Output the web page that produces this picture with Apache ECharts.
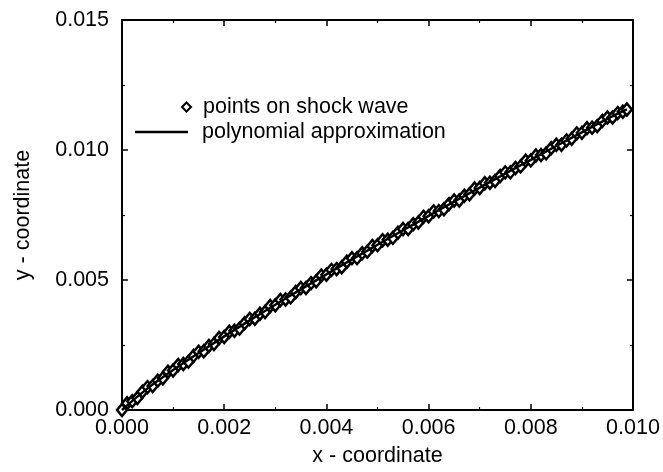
<!DOCTYPE html>
<html>
<head>
<meta charset="utf-8">
<script src="https://cdn.jsdelivr.net/npm/echarts@6/dist/echarts.min.js"></script>
<style>html,body{margin:0;padding:0;background:#fff;}#c{width:663px;height:472px;}</style>
</head>
<body>
<div id="c"></div>
<script>
// Points on shock wave (x, y)
const pointX = [0, 0.0001, 0.0002, 0.0003, 0.0004, 0.0005, 0.0006, 0.0007, 0.0008, 0.0009,
  0.0010, 0.0011, 0.0012, 0.0013, 0.0014, 0.0015, 0.0016, 0.0017, 0.0018, 0.0019,
  0.0020, 0.0021, 0.0022, 0.0023, 0.0024, 0.0025, 0.0026, 0.0027, 0.0028, 0.0029,
  0.0030, 0.0031, 0.0032, 0.0033, 0.0034, 0.0035, 0.0036, 0.0037, 0.0038, 0.0039,
  0.0040, 0.0041, 0.0042, 0.0043, 0.0044, 0.0045, 0.0046, 0.0047, 0.0048, 0.0049,
  0.0050, 0.0051, 0.0052, 0.0053, 0.0054, 0.0055, 0.0056, 0.0057, 0.0058, 0.0059,
  0.0060, 0.0061, 0.0062, 0.0063, 0.0064, 0.0065, 0.0066, 0.0067, 0.0068, 0.0069,
  0.0070, 0.0071, 0.0072, 0.0073, 0.0074, 0.0075, 0.0076, 0.0077, 0.0078, 0.0079,
  0.0080, 0.0081, 0.0082, 0.0083, 0.0084, 0.0085, 0.0086, 0.0087, 0.0088, 0.0089,
  0.0090, 0.0091, 0.0092, 0.0093, 0.0094, 0.0095, 0.0096, 0.0097, 0.0098, 0.00988];
const pointY = [0, 0.00026, 0.00034, 0.00046, 0.00070, 0.00088, 0.00092, 0.00113, 0.00122, 0.00147,
  0.00152, 0.00173, 0.00177, 0.00186, 0.00208, 0.00224, 0.00226, 0.00246, 0.00254, 0.00277,
  0.00281, 0.00301, 0.00305, 0.00313, 0.00334, 0.00350, 0.00351, 0.00370, 0.00377, 0.00400,
  0.00403, 0.00423, 0.00425, 0.00433, 0.00454, 0.00469, 0.00469, 0.00488, 0.00495, 0.00517,
  0.00520, 0.00539, 0.00542, 0.00549, 0.00570, 0.00584, 0.00584, 0.00603, 0.00609, 0.00631,
  0.00634, 0.00653, 0.00655, 0.00662, 0.00682, 0.00696, 0.00696, 0.00715, 0.00721, 0.00743,
  0.00745, 0.00764, 0.00765, 0.00772, 0.00792, 0.00806, 0.00806, 0.00824, 0.00830, 0.00852,
  0.00854, 0.00872, 0.00874, 0.00881, 0.00900, 0.00914, 0.00914, 0.00931, 0.00937, 0.00959,
  0.00960, 0.00979, 0.00981, 0.00987, 0.01007, 0.01020, 0.01020, 0.01037, 0.01043, 0.01064,
  0.01066, 0.01084, 0.01086, 0.01092, 0.01112, 0.01125, 0.01125, 0.01142, 0.01147, 0.01156];
// Polynomial approximation curve
const curveX = [0, 0.0005, 0.0010, 0.0015, 0.0020, 0.0025, 0.0030, 0.0035, 0.0040, 0.0045, 0.0050,
  0.0055, 0.0060, 0.0065, 0.0070, 0.0075, 0.0080, 0.0085, 0.0090, 0.0095, 0.00988];
const curveY = [0, 0.000832, 0.001535, 0.002194, 0.002830, 0.003445, 0.004048, 0.004638, 0.005219, 0.005791, 0.006356,
  0.006914, 0.007466, 0.008012, 0.008555, 0.009091, 0.009624, 0.010154, 0.010679, 0.011201, 0.011560];
const xTicks = [0, 0.002, 0.004, 0.006, 0.008, 0.010];
const yTicks = [0, 0.005, 0.010, 0.015];
const seriesNames = ['points on shock wave', 'polynomial approximation'];

const FONT = '"Liberation Sans", Arial, sans-serif';
const FS = 21.5;
const chart = echarts.init(document.getElementById('c'), null, {renderer: 'canvas'});

function axisBase(extra) {
  return Object.assign({
    type: 'value',
    axisLine: {show: true, onZero: false, lineStyle: {color: '#000', width: 2}},
    axisTick: {show: true, inside: true, length: 6, lineStyle: {color: '#000', width: 1.5}},
    minorTick: {show: true, splitNumber: 2, length: 3, lineStyle: {color: '#000', width: 1.2}},
    splitLine: {show: false},
    minorSplitLine: {show: false}
  }, extra);
}

chart.setOption({
  animation: false,
  backgroundColor: '#fff',
  grid: {left: 122, right: 30, top: 20, bottom: 59},
  legend: [
    {
      data: [{name: seriesNames[0], icon: 'diamond'}],
      left: 181, top: 96, padding: 0, itemWidth: 9, itemHeight: 9,
      selectedMode: false,
      textStyle: {fontFamily: FONT, fontSize: FS, color: '#000', padding: [0, 0, 0, 7]}
    },
    {
      data: [{name: seriesNames[1], icon: 'rect'}],
      left: 135, top: 121, padding: 0, itemWidth: 53, itemHeight: 2.5,
      selectedMode: false,
      textStyle: {fontFamily: FONT, fontSize: FS, color: '#000', padding: [0, 0, 0, 9]}
    }
  ],
  xAxis: [
    axisBase({
      min: xTicks[0], max: xTicks[xTicks.length - 1], interval: 0.002, position: 'bottom',
      name: 'x - coordinate', nameLocation: 'middle', nameGap: 35,
      nameTextStyle: {fontFamily: FONT, fontSize: FS, color: '#000'},
      axisLabel: {fontFamily: FONT, fontSize: FS, color: '#000', margin: 7,
        formatter: v => v.toFixed(3)}
    }),
    axisBase({
      min: xTicks[0], max: xTicks[xTicks.length - 1], interval: 0.002, position: 'top',
      axisLabel: {show: false}
    })
  ],
  yAxis: [
    axisBase({
      min: yTicks[0], max: yTicks[yTicks.length - 1], interval: 0.005, position: 'left',
      name: 'y - coordinate', nameLocation: 'middle', nameGap: 88, nameRotate: 90,
      nameTextStyle: {fontFamily: FONT, fontSize: FS, color: '#000'},
      axisLabel: {fontFamily: FONT, fontSize: FS, color: '#000', margin: 13,
        formatter: v => v.toFixed(3)}
    }),
    axisBase({
      min: yTicks[0], max: yTicks[yTicks.length - 1], interval: 0.005, position: 'right',
      axisLabel: {show: false}
    })
  ],
  series: [
    {
      name: seriesNames[0], type: 'scatter', xAxisIndex: 0, yAxisIndex: 0,
      symbol: 'diamond', symbolSize: [10, 12],
      itemStyle: {color: '#fff', borderColor: '#000', borderWidth: 2.5, opacity: 1},
      data: pointX.map((x, i) => [x, pointY[i]]),
      z: 3
    },
    {
      name: seriesNames[1], type: 'line', xAxisIndex: 0, yAxisIndex: 0,
      showSymbol: false, symbol: 'none', smooth: true,
      lineStyle: {color: '#000', width: 2.5},
      itemStyle: {color: '#000'},
      data: curveX.map((x, i) => [x, curveY[i]]),
      z: 4
    }
  ]
});
</script>
</body>
</html>
